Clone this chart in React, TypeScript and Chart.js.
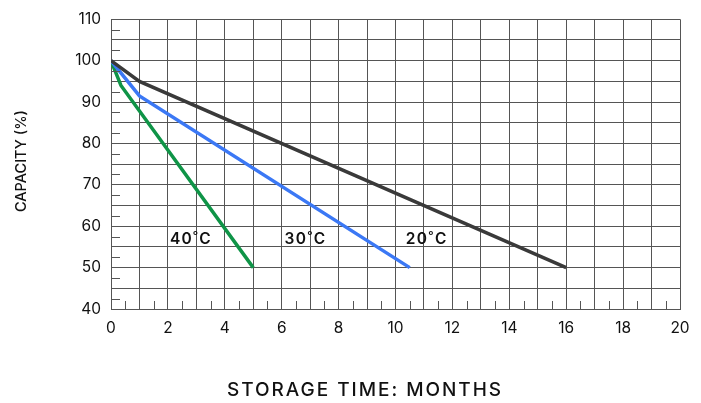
import React, { useEffect, useRef } from "react";
import { Chart, registerables } from "chart.js";

Chart.register(...registerables);

const months20 = [0, 1, 16];
const capacity20 = [100, 95, 50];
const months30 = [0, 1, 10.5];
const capacity30 = [100, 91.5, 50];
const months40 = [0, 0.35, 5];
const capacity40 = [100, 94, 50];

const seriesLabels = ["20˚C", "30˚C", "40˚C"];
const labelMonths = [10.36, 6.1, 2.07];
const labelCapacity = [56.8, 56.8, 56.8];

const xTitle = "STORAGE TIME: MONTHS";
const yTitle = "CAPACITY (%)";

const FONT = "Inter, 'Noto Sans', sans-serif";

const pairs = (xs: number[], ys: number[]) => xs.map((x, i) => ({ x, y: ys[i] }));

function fitText(ctx: CanvasRenderingContext2D, text: string, target: number) {
  ctx.letterSpacing = "0px";
  const w = ctx.measureText(text).width;
  const sp = Math.max(0, (target - w) / text.length);
  ctx.letterSpacing = sp + "px";
  return sp;
}

const decorPlugin = {
  id: "decor",
  afterDatasetsDraw(chart: any) {
    const { ctx, chartArea, scales } = chart;
    const xs = scales.x;
    const ys = scales.y;
    ctx.save();
    // minor ticks
    ctx.strokeStyle = "#555";
    ctx.lineWidth = 1;
    ctx.beginPath();
    for (let v = 42.5; v < 110; v += 5) {
      const py = Math.round(ys.getPixelForValue(v)) + 0.5;
      ctx.moveTo(chartArea.left, py);
      ctx.lineTo(chartArea.left + 9, py);
    }
    for (let m = 0.5; m < 20; m += 1) {
      const px = Math.round(xs.getPixelForValue(m)) + 0.5;
      ctx.moveTo(px, chartArea.bottom);
      ctx.lineTo(px, chartArea.bottom - 8);
    }
    ctx.stroke();
    // series labels
    ctx.fillStyle = "#111";
    ctx.font = `600 15.5px ${FONT}`;
    ctx.textAlign = "left";
    ctx.textBaseline = "middle";
    seriesLabels.forEach((t, i) => {
      fitText(ctx, t, 42);
      ctx.fillText(t, xs.getPixelForValue(labelMonths[i]), ys.getPixelForValue(labelCapacity[i]));
    });
    // x title
    ctx.font = `500 19px ${FONT}`;
    ctx.textAlign = "left";
    ctx.textBaseline = "middle";
    fitText(ctx, xTitle, 276);
    ctx.fillText(xTitle, 365 - 276 / 2, 390);
    // y title
    ctx.font = `500 14.5px ${FONT}`;
    fitText(ctx, yTitle, 100);
    ctx.translate(21.5, 162 + 50);
    ctx.rotate(-Math.PI / 2);
    ctx.fillText(yTitle, 0, 0);
    ctx.restore();
  },
};

export default function App() {
  const ref = useRef<HTMLCanvasElement>(null);
  useEffect(() => {
    if (!ref.current) return;
    const chart = new Chart(ref.current, {
      type: "line",
      data: {
        datasets: [
          { label: seriesLabels[0], data: pairs(months20, capacity20), borderColor: "#3a3a3a", borderWidth: 3.5 },
          { label: seriesLabels[1], data: pairs(months30, capacity30), borderColor: "#3b78f5", borderWidth: 3.5 },
          { label: seriesLabels[2], data: pairs(months40, capacity40), borderColor: "#0f9447", borderWidth: 3.5 },
        ],
      },
      options: {
        animation: false,
        responsive: false,
        devicePixelRatio: 1,
        layout: { padding: { top: 15, right: 21, left: 0, bottom: 0 } },
        elements: { point: { radius: 0 }, line: { tension: 0 } },
        plugins: { legend: { display: false }, tooltip: { enabled: false } },
        scales: {
          x: {
            type: "linear",
            min: 0,
            max: 20,
            afterFit: (s: any) => { s.height = 94; },
            ticks: {
              stepSize: 1,
              autoSkip: false,
              maxRotation: 0,
              padding: 10,
              color: "#111",
              font: { family: FONT, size: 15.5 },
              callback: (v: any) => (Number(v) % 2 === 0 ? String(v) : ""),
            },
            grid: { color: "#555", lineWidth: 1, drawTicks: false },
            border: { color: "#555" },
          },
          y: {
            type: "linear",
            min: 40,
            max: 110,
            afterFit: (s: any) => { s.width = 111; },
            ticks: {
              stepSize: 5,
              autoSkip: false,
              padding: 10,
              color: "#111",
              font: { family: FONT, size: 15.5 },
              callback: (v: any) => (Number(v) % 10 === 0 ? String(v) : ""),
            },
            grid: { color: "#555", lineWidth: 1, drawTicks: false },
            border: { color: "#555" },
          },
        },
      },
      plugins: [decorPlugin],
    });
    return () => chart.destroy();
  }, []);
  return (
    <div style={{ position: "fixed", left: 0, top: 0, width: 701, height: 403, background: "#fff" }}>
      <canvas ref={ref} width={701} height={403} style={{ width: 701, height: 403, display: "block" }} />
    </div>
  );
}
